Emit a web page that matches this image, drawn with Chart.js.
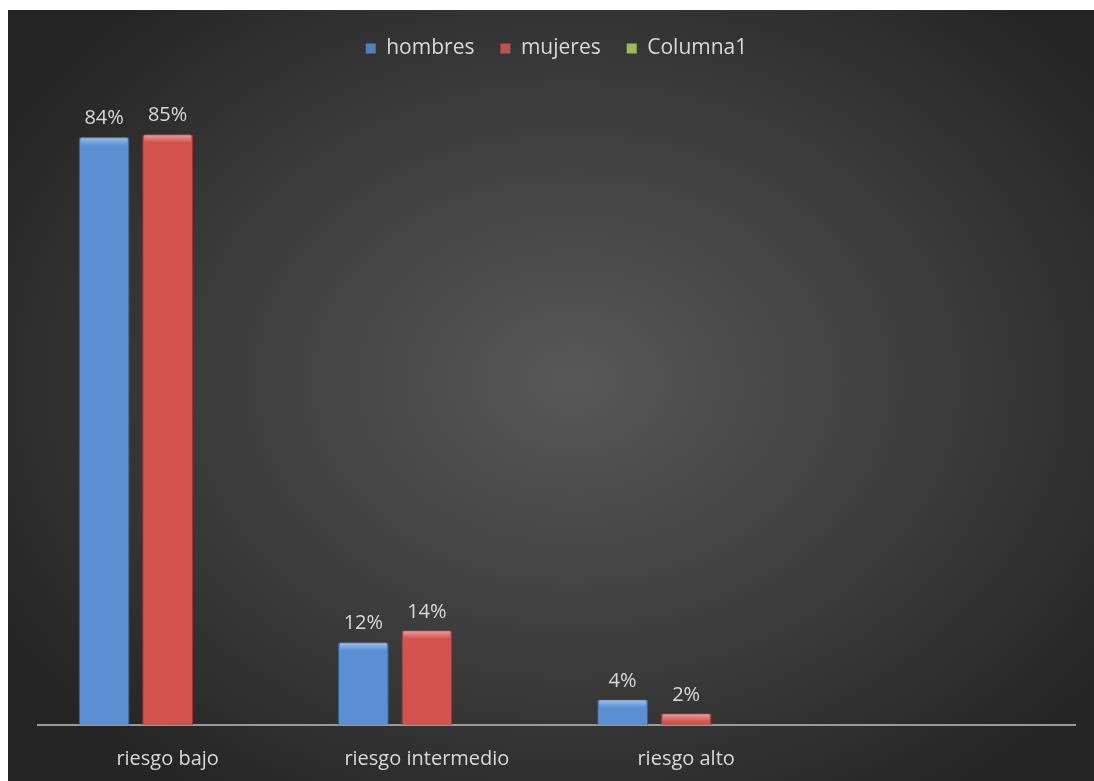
<!DOCTYPE html>
<html>
<head>
<meta charset="utf-8">
<script src="https://cdn.jsdelivr.net/npm/chart.js@4.4.1/dist/chart.umd.min.js"></script>
<style>
  html, body { margin: 0; padding: 0; background: #ffffff; }
  #wrap {
    position: absolute; left: 8px; top: 10px; width: 1086px; height: 771px;
    background: radial-gradient(ellipse 60% 65% at 52% 48%, #585858 0%, #3a3a3a 60%, #252525 100%);
  }
</style>
</head>
<body>
<div id="wrap"><canvas id="chart" width="1086" height="771"></canvas></div>
<script>
// datos
var categorias = ["riesgo bajo", "riesgo intermedio", "riesgo alto", ""];
var hombres = [0.842, 0.118, 0.036, null];
var mujeres = [0.846, 0.135, 0.016, null];
var columna1 = [null, null, null, null];

var fuente = "Open Sans";

// degradado horizontal para simular el relieve de Excel
function relleno(oscuro, claro) {
    return function (ctx) {
        var el = ctx.element;
        if (!el || el.width === undefined || isNaN(el.x)) return claro;
        var x0 = el.x - el.width / 2, x1 = el.x + el.width / 2;
        var g = ctx.chart.ctx.createLinearGradient(x0, 0, x1, 0);
        g.addColorStop(0, oscuro);
        g.addColorStop(0.12, claro);
        g.addColorStop(0.88, claro);
        g.addColorStop(1, oscuro);
        return g;
    };
}

// espacio extra debajo de la leyenda
var margenLeyenda = {
    id: 'margenLeyenda',
    beforeInit: function (chart) {
        var fit = chart.legend.fit;
        chart.legend.fit = function () {
            fit.bind(chart.legend)();
            this.height += 28;
        };
    }
};

// etiquetas de porcentaje encima de las barras
var etiquetas = {
    id: 'etiquetas',
    afterDatasetsDraw: function (chart) {
        var ctx = chart.ctx;
        ctx.save();
        // brillo superior de cada barra
        chart.data.datasets.forEach(function (ds, i) {
            chart.getDatasetMeta(i).data.forEach(function (bar, j) {
                if (ds.data[j] === null) return;
                var x0 = bar.x - bar.width / 2;
                var g = ctx.createLinearGradient(0, bar.y, 0, bar.y + 8);
                g.addColorStop(0, "rgba(255,255,255,0.45)");
                g.addColorStop(1, "rgba(255,255,255,0)");
                ctx.fillStyle = g;
                ctx.fillRect(x0 + 2, bar.y, bar.width - 4, 8);
            });
        });
        ctx.font = "20px " + fuente;
        ctx.fillStyle = "#d9d9d9";
        ctx.textAlign = "center";
        ctx.textBaseline = "bottom";
        chart.data.datasets.forEach(function (ds, i) {
            chart.getDatasetMeta(i).data.forEach(function (bar, j) {
                var v = ds.data[j];
                if (v === null || v === undefined) return;
                ctx.fillText(Math.round(v * 100) + "%", bar.x, bar.y - 9);
            });
        });
        ctx.restore();
    }
};

new Chart(document.getElementById("chart"), {
    type: 'bar',
    data: {
        labels: categorias,
        datasets: [
            { label: "hombres", data: hombres, backgroundColor: relleno("#3a68a8", "#5a8fd4"), borderColor: "#3a5f95", borderWidth: 1 },
            { label: "mujeres", data: mujeres, backgroundColor: relleno("#a83b38", "#d4524e"), borderColor: "#9a3532", borderWidth: 1 },
            { label: "Columna1", data: columna1, backgroundColor: "#9bbb59", borderColor: "#7e9a44", borderWidth: 1 }
        ]
    },
    options: {
        responsive: false,
        animation: false,
        categoryPercentage: 0.735,
        barPercentage: 0.8,
        layout: { padding: { left: 30, right: 19, top: 2, bottom: 0 } },
        plugins: {
            tooltip: { enabled: false },
            legend: {
                position: 'top',
                labels: {
                    color: "#d9d9d9",
                    font: { family: fuente, size: 21 },
                    boxWidth: 10,
                    boxHeight: 10,
                    padding: 26,
                    generateLabels: function (chart) {
                        var cols = ["#4f81bd", "#c0504d", "#9bbb59"];
                        return chart.data.datasets.map(function (ds, i) {
                            return { text: ds.label, fillStyle: cols[i], strokeStyle: cols[i], lineWidth: 0, fontColor: "#d9d9d9", datasetIndex: i };
                        });
                    }
                }
            }
        },
        scales: {
            x: {
                grid: { display: false },
                border: { color: "#9a9a9a", width: 2 },
                ticks: { color: "#d9d9d9", font: { family: fuente, size: 20 }, padding: 14 },
                afterFit: function (s) { s.height = 56; }
            },
            y: {
                display: false,
                min: 0,
                max: 0.9
            }
        }
    },
    plugins: [margenLeyenda, etiquetas]
});
</script>
</body>
</html>
